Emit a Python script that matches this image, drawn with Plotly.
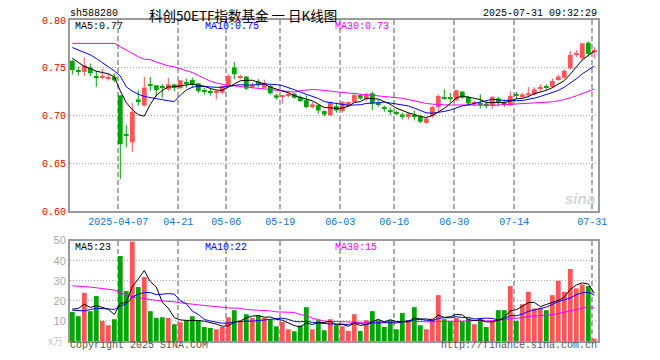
import plotly.graph_objects as go
import pandas as pd

# ---------------- data ----------------
month_days = {
    "03": [25, 26, 27, 28, 31],
    "04": [1, 2, 3, 7, 8, 9, 10, 11, 14, 15, 16, 17, 18, 21, 22, 23, 24, 25, 28, 29, 30],
    "05": [6, 7, 8, 9, 12, 13, 14, 15, 16, 19, 20, 21, 22, 23, 26, 27, 28, 29, 30],
    "06": [3, 4, 5, 6, 9, 10, 11, 12, 13, 16, 17, 18, 19, 20, 23, 24, 25, 26, 27, 30],
    "07": [1, 2, 3, 4, 7, 8, 9, 10, 11, 14, 15, 16, 17, 18, 21, 22, 23, 24, 25, 28, 29, 30, 31],
}
dates = [f"2025-{m}-{d:02d}" for m, ds in month_days.items() for d in ds]

opens = [0.7572, 0.7475, 0.7456, 0.7502, 0.7410, 0.7402, 0.7395, 0.7403, 0.7211, 0.6805,
         0.6719, 0.7168, 0.7105, 0.7322, 0.7316, 0.7303, 0.7274, 0.7326, 0.7284, 0.7340,
         0.7372, 0.7337, 0.7259, 0.7249, 0.7239, 0.7239, 0.7319, 0.7502, 0.7400, 0.7407,
         0.7306, 0.7354, 0.7290, 0.7309, 0.7211, 0.7201, 0.7204, 0.7228, 0.7193, 0.7161,
         0.7088, 0.7109, 0.7046, 0.7003, 0.7098, 0.7046, 0.7098, 0.7140, 0.7214, 0.7176,
         0.7232, 0.7129, 0.7084, 0.7056, 0.7031, 0.7011, 0.6986, 0.7004, 0.6993, 0.6923,
         0.6993, 0.7088, 0.7189, 0.7189, 0.7158, 0.7250, 0.7197, 0.7116, 0.7126, 0.7123,
         0.7105, 0.7179, 0.7129, 0.7105, 0.7217, 0.7204, 0.7211, 0.7221, 0.7289, 0.7301,
         0.7302, 0.7372, 0.7396, 0.7492, 0.7639, 0.7600, 0.7762, 0.7660]
closes = [0.7477, 0.7468, 0.7526, 0.7442, 0.7405, 0.7409, 0.7402, 0.7368, 0.6702, 0.6795,
          0.7039, 0.7140, 0.7292, 0.7316, 0.7267, 0.7297, 0.7326, 0.7292, 0.7368, 0.7334,
          0.7326, 0.7256, 0.7253, 0.7243, 0.7256, 0.7309, 0.7414, 0.7432, 0.7406, 0.7281,
          0.7312, 0.7319, 0.7340, 0.7232, 0.7186, 0.7207, 0.7228, 0.7186, 0.7151, 0.7088,
          0.7116, 0.7053, 0.7011, 0.7133, 0.7053, 0.7140, 0.7140, 0.7214, 0.7179, 0.7221,
          0.7126, 0.7123, 0.7078, 0.7035, 0.7025, 0.6986, 0.7018, 0.6986, 0.6934, 0.6968,
          0.7088, 0.7204, 0.7183, 0.7183, 0.7263, 0.7186, 0.7126, 0.7140, 0.7120, 0.7098,
          0.7193, 0.7140, 0.7123, 0.7204, 0.7211, 0.7221, 0.7232, 0.7274, 0.7295, 0.7295,
          0.7361, 0.7407, 0.7467, 0.7635, 0.7645, 0.7755, 0.7645, 0.7687]
highs = [0.7580, 0.7510, 0.7607, 0.7544, 0.7467, 0.7490, 0.7445, 0.7440, 0.7211, 0.6900,
         0.7130, 0.7263, 0.7407, 0.7403, 0.7316, 0.7330, 0.7396, 0.7326, 0.7368, 0.7389,
         0.7396, 0.7337, 0.7290, 0.7280, 0.7263, 0.7309, 0.7430, 0.7561, 0.7428, 0.7414,
         0.7344, 0.7380, 0.7375, 0.7326, 0.7228, 0.7218, 0.7238, 0.7238, 0.7210, 0.7210,
         0.7144, 0.7116, 0.7053, 0.7144, 0.7137, 0.7154, 0.7147, 0.7228, 0.7221, 0.7238,
         0.7250, 0.7168, 0.7105, 0.7080, 0.7053, 0.7028, 0.7028, 0.7053, 0.7011, 0.6982,
         0.7098, 0.7221, 0.7274, 0.7238, 0.7263, 0.7256, 0.7204, 0.7158, 0.7221, 0.7147,
         0.7204, 0.7197, 0.7168, 0.7256, 0.7246, 0.7238, 0.7298, 0.7295, 0.7326, 0.7326,
         0.7386, 0.7430, 0.7484, 0.7677, 0.7684, 0.7758, 0.7775, 0.7718]
lows = [0.7430, 0.7420, 0.7414, 0.7410, 0.7300, 0.7380, 0.7365, 0.7350, 0.6334, 0.6667,
        0.6618, 0.7105, 0.7093, 0.7256, 0.7197, 0.7186, 0.7256, 0.7254, 0.7284, 0.7290,
        0.7290, 0.7235, 0.7219, 0.7205, 0.7170, 0.7226, 0.7309, 0.7379, 0.7382, 0.7265,
        0.7281, 0.7295, 0.7285, 0.7218, 0.7165, 0.7123, 0.7190, 0.7176, 0.7144, 0.7074,
        0.7074, 0.7018, 0.6993, 0.6993, 0.7028, 0.7028, 0.7090, 0.7130, 0.7165, 0.7150,
        0.7056, 0.7091, 0.7039, 0.7003, 0.7004, 0.6958, 0.6958, 0.6948, 0.6923, 0.6912,
        0.6975, 0.7035, 0.7168, 0.7133, 0.7158, 0.7176, 0.7105, 0.7098, 0.7074, 0.7074,
        0.7070, 0.7098, 0.7091, 0.7098, 0.7172, 0.7186, 0.7186, 0.7210, 0.7256, 0.7263,
        0.7284, 0.7365, 0.7380, 0.7484, 0.7610, 0.7580, 0.7614, 0.7595]
volumes = [14.5, 12.35, 24.0, 14.85, 22.35, 10.0, 7.85, 10.85, 42.35, 24.85,
           49.5, 26.85, 31.85, 14.85, 11.5, 11.85, 11.5, 8.35, 9.35, 10.35,
           12.35, 10.35, 7.0, 6.5, 5.85, 7.0, 11.85, 15.35, 10.0, 13.35,
           11.5, 12.85, 11.5, 10.7, 7.35, 9.5, 5.85, 4.85, 7.7, 16.85,
           5.85, 10.35, 5.35, 10.85, 7.85, 7.35, 5.0, 13.35, 5.0, 10.35,
           14.85, 10.35, 7.0, 10.35, 5.85, 14.0, 10.35, 16.85, 7.85, 5.85,
           11.2, 22.85, 10.85, 9.85, 11.5, 9.85, 11.2, 8.35, 11.2, 7.0,
           9.85, 15.35, 15.35, 27.35, 10.0, 18.35, 24.5, 16.2, 16.5, 15.35,
           22.85, 30.0, 24.5, 35.85, 26.2, 28.2, 27.35, 1.2]

# moving-average values before a full window is available
ma5_head = [0.7600, 0.7555, 0.7513, 0.7492]
ma10_head = [0.7712, 0.7687, 0.7660, 0.7635, 0.7597, 0.7555, 0.7513, 0.7467, 0.7414]
ma30_head = [0.7755, 0.7755, 0.7755, 0.7755, 0.7755, 0.7755, 0.7755, 0.7755, 0.7720, 0.7684,
             0.7650, 0.7615, 0.7590, 0.7585, 0.7560, 0.7540, 0.7520, 0.7510, 0.7490, 0.7470,
             0.7450, 0.7420, 0.7390, 0.7360, 0.7340, 0.7325, 0.7315, 0.7310, 0.7305]
vma5_head = [15.85, 16.2, 18.35, 16.7]
vma10_head = [15.35, 15.2, 15.0, 15.7, 16.2, 16.2, 15.85, 15.7, 17.35]
vma30_head = [27.5, 27.35, 27.0, 26.85, 26.5, 26.2, 25.7, 25.35, 24.2, 22.85,
              22.0, 21.5, 21.0, 20.5, 20.2, 20.0, 19.85, 19.5, 19.0, 18.5,
              18.35, 18.0, 17.7, 17.2, 16.85, 16.7, 16.5, 16.35, 16.35]

tick_dates = ["2025-04-07", "2025-04-21", "2025-05-06", "2025-05-19", "2025-06-03",
              "2025-06-16", "2025-06-30", "2025-07-14", "2025-07-31"]
tick_text = ["2025-04-07", "04-21", "05-06", "05-19", "06-03", "06-16", "06-30", "07-14", "07-31"]
price_ticks = [0.60, 0.65, 0.70, 0.75, 0.80]
vol_ticks = [10, 20, 30, 40, 50]

title_text = "科创50ETF指数基金 一 日K线图"
code_text = "sh588280"
time_text = "2025-07-31 09:32:29"
price_legend = ["MA5:0.77", "MA10:0.75", "MA30:0.73"]
vol_legend = ["MA5:23", "MA10:22", "MA30:15"]

# ---------------- derived ----------------
n = len(dates)
idx = list(range(n))


def moving(values, w, head):
    s = pd.Series(values, dtype=float).rolling(w).mean().tolist()
    s[:w - 1] = head
    return s


ma5 = moving(closes, 5, ma5_head)
ma10 = moving(closes, 10, ma10_head)
ma30 = moving(closes, 30, ma30_head)
vma5 = moving(volumes, 5, vma5_head)
vma10 = moving(volumes, 10, vma10_head)
vma30 = moving(volumes, 30, vma30_head)

RED = "#ff5555"
GREEN = "#00a600"
up = [c >= o for o, c in zip(opens, closes)]
colors = [RED if u else GREEN for u in up]

MINH = 0.0012
body_base, body_h = [], []
for o, c in zip(opens, closes):
    lo, hi = min(o, c), max(o, c)
    if hi - lo < MINH:
        mid = (hi + lo) / 2
        lo, hi = mid - MINH / 2, mid + MINH / 2
    body_base.append(lo)
    body_h.append(hi - lo)


def wick_xy(flag):
    xs, ys = [], []
    for i in idx:
        if up[i] == flag:
            xs += [i, i, None]
            ys += [lows[i], highs[i], None]
    return xs, ys


GRID_OFF = -0.33
tickvals = [dates.index(d) + GRID_OFF for d in tick_dates]

fig = go.Figure()
for flag, col in [(True, RED), (False, GREEN)]:
    wx, wy = wick_xy(flag)
    fig.add_trace(go.Scatter(x=wx, y=wy, mode="lines", line=dict(color=col, width=1),
                             xaxis="x", yaxis="y", hoverinfo="skip", showlegend=False))
fig.add_trace(go.Bar(x=idx, y=body_h, base=body_base, width=0.8,
                     marker=dict(color=colors, line=dict(width=0)),
                     xaxis="x", yaxis="y", showlegend=False))
for arr, col in [(ma30, "#ff00ff"), (ma10, "#0000ff"), (ma5, "#000000")]:
    fig.add_trace(go.Scatter(x=idx, y=arr, mode="lines", line=dict(color=col, width=1),
                             xaxis="x", yaxis="y", showlegend=False))

fig.add_trace(go.Bar(x=idx, y=volumes, width=0.8,
                     marker=dict(color=colors, line=dict(width=0)),
                     xaxis="x2", yaxis="y2", showlegend=False))
for arr, col in [(vma30, "#ff00ff"), (vma10, "#0000ff"), (vma5, "#000000")]:
    fig.add_trace(go.Scatter(x=idx, y=arr, mode="lines", line=dict(color=col, width=1),
                             xaxis="x2", yaxis="y2", showlegend=False))

MONO = "Liberation Mono"
# page body has an 8px margin: figure is drawn at (8, 8) of the window
OFF = 8
W, H = 644, 344
PLOT_L, PLOT_R, PLOT_T, PLOT_B = 70, 598, 20, 341  # in window pixels
L, T = PLOT_L - OFF, PLOT_T - OFF
R, B = W - (PLOT_R - OFF), H - (PLOT_B - OFF)
PW, PH = W - L - R, H - T - B


def px(x):
    return (x - PLOT_L) / PW


def py(y):
    return (PLOT_B - y) / PH


xr = [-0.383, 87.617]
frame = dict(showline=True, mirror=True, linecolor="#9a9a9a", linewidth=2, zeroline=False,
             ticks="", automargin=False)

fig.update_layout(
    width=W, height=H, margin=dict(l=L, r=R, t=T, b=B, autoexpand=False),
    paper_bgcolor="white", plot_bgcolor="white", barmode="overlay",
    showlegend=False,
    xaxis=dict(domain=[0, 1], range=xr, anchor="y", tickmode="array", tickvals=tickvals,
               ticktext=tick_text, showgrid=True, gridcolor="#ababab", gridwidth=1.5,
               griddash="5px,3px", tickfont=dict(family=MONO, size=10, color="#0a78d2"),
               **frame),
    yaxis=dict(domain=[py(211), 1], range=[0.60, 0.80], anchor="x", tickmode="array",
               tickvals=price_ticks, tickformat=".2f", showgrid=True, gridcolor="#a8a8a8",
               gridwidth=1, griddash="1px,2px",
               tickfont=dict(family=MONO, size=10, color="#ee0000"), **frame),
    xaxis2=dict(domain=[0, 1], range=xr, anchor="y2", tickmode="array", tickvals=tickvals,
                showticklabels=False, showgrid=True, gridcolor="#ababab", gridwidth=1.5,
                griddash="5px,3px", **frame),
    yaxis2=dict(domain=[0, py(240.6)], range=[0, 50], anchor="x2", tickmode="array",
                tickvals=vol_ticks, showgrid=True, gridcolor="#a8a8a8", gridwidth=1,
                griddash="1px,2px",
                tickfont=dict(family="Liberation Sans", size=11, color="#a8a8a8"), **frame),
)


def note(text, x, y, color="#000", size=10, family=MONO, xanchor="left", **kw):
    fig.add_annotation(text=text, x=px(x), y=py(y), xref="paper", yref="paper",
                       xanchor=xanchor, yanchor="middle", showarrow=False, borderpad=0,
                       font=dict(family=family, size=size, color=color), **kw)


note(code_text, 69, 14)
note(title_text, 243, 15, size=13.5, family="Noto Sans CJK SC", xanchor="center")
note(time_text, 598, 14, xanchor="right")
for t, x, c in zip(price_legend, [74, 204, 334], ["#000000", "#0000ff", "#ff00ff"]):
    note(t, x, 26.5, color=c)
for t, x, c in zip(vol_legend, [74, 204, 334], ["#000000", "#0000ff", "#ff00ff"]):
    note(t, x, 247, color=c)
note("Copyright 2025 SINA.COM", 69, 346, color="#555555")
note("http://finance.sina.com.cn", 598, 346, color="#555555", xanchor="right")
note("x万", 47, 340, color="#c8c8c8", size=10, family="Noto Sans CJK SC")
note("<b><i>sina</i></b>", 580, 198, color="#d6d6d6", size=15, family="Liberation Sans",
     xanchor="center")

fig.write_html("out.html")
